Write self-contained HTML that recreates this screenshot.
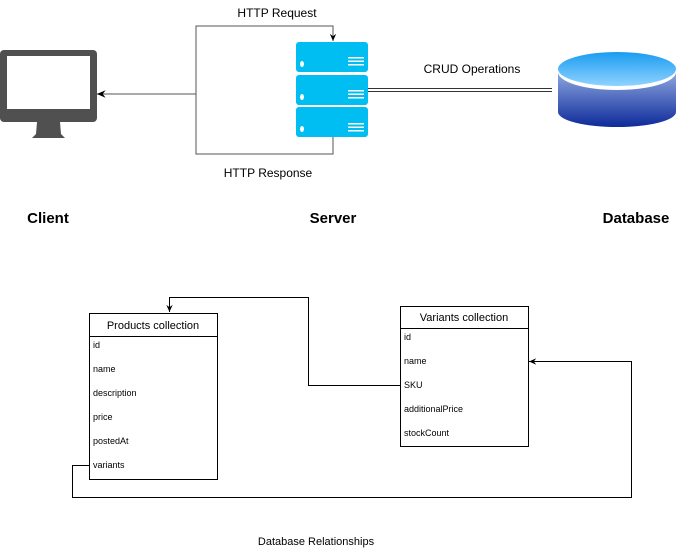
<!DOCTYPE html>
<html><head><style>
body{margin:0;width:683px;height:552px;background:#fff;overflow:hidden}
svg{display:block}
text{font-family:"Liberation Sans",sans-serif}
</style></head><body>
<svg width="683" height="552" viewBox="0 0 683 552">
<defs>
<linearGradient id="cb" x1="0" y1="0" x2="0" y2="1"><stop offset="0" stop-color="#8fa8e0"/><stop offset="1" stop-color="#0d2a9a"/></linearGradient>
<linearGradient id="ct" x1="0" y1="0" x2="0" y2="1"><stop offset="0" stop-color="#1a9cf0"/><stop offset="1" stop-color="#8fd3ff"/></linearGradient>
<marker id="ar" viewBox="0 0 10 10" refX="9" refY="5" markerWidth="8" markerHeight="8" orient="auto"><path d="M0,1 L9,5 L0,9 L3,5 z" fill="#000"/></marker>
</defs>
<!-- monitor -->
<rect x="0" y="50" width="97" height="72" rx="4" fill="#505050"/>
<rect x="7" y="56" width="83" height="53" fill="#fff"/>
<path d="M37,122 L60,122 L61,134 L65,138 L32,138 L36,134 Z" fill="#505050"/>
<!-- server -->
<g fill="#00bef2">
<rect x="296" y="42" width="72" height="30" rx="3"/>
<rect x="296" y="75" width="72" height="30" rx="3"/>
<rect x="296" y="107" width="72" height="30" rx="3"/>
</g>
<g fill="#fff">
<ellipse cx="302" cy="64" rx="2" ry="3"/><ellipse cx="302" cy="97" rx="2" ry="3"/><ellipse cx="302" cy="129" rx="2" ry="3"/>
<rect x="348" y="57" width="16" height="1.5"/><rect x="348" y="60.5" width="16" height="1.5"/><rect x="348" y="64" width="16" height="1.5"/>
<rect x="348" y="90" width="16" height="1.5"/><rect x="348" y="93.5" width="16" height="1.5"/><rect x="348" y="97" width="16" height="1.5"/>
<rect x="348" y="123" width="16" height="1.5"/><rect x="348" y="126.5" width="16" height="1.5"/><rect x="348" y="130" width="16" height="1.5"/>
</g>
<!-- connectors top -->
<path d="M196,94 L97,94" stroke="#777" stroke-width="1.2" fill="none" marker-end="url(#ar)"/>
<path d="M196,94 L196,26 L333,26 L333,41" stroke="#555" stroke-width="1" fill="none" marker-end="url(#ar)"/>
<path d="M333,137 L333,154 L196,154 L196,94" stroke="#555" stroke-width="1" fill="none"/>
<path d="M368,88.5 L552,88.5 M368,91.5 L552,91.5" stroke="#333" stroke-width="1"/>
<!-- cylinder -->
<path d="M558,72 L558,112 A59,15 0 0 0 676,112 L676,72 Z" fill="url(#cb)"/>
<ellipse cx="617" cy="72" rx="59" ry="18" fill="#fff"/>
<ellipse cx="617" cy="69" rx="59" ry="17" fill="url(#ct)"/>
<text x="277" y="17" font-size="12" text-anchor="middle">HTTP Request</text>
<text x="472" y="73" font-size="12" text-anchor="middle">CRUD Operations</text>
<text x="268" y="177" font-size="12" text-anchor="middle">HTTP Response</text>
<text x="48" y="223" font-size="15" font-weight="bold" text-anchor="middle">Client</text>
<text x="333" y="223" font-size="15" font-weight="bold" text-anchor="middle">Server</text>
<text x="636" y="223" font-size="15" font-weight="bold" text-anchor="middle">Database</text>
<!-- products -->
<rect x="89.5" y="313.5" width="128" height="166" fill="#fff" stroke="#000"/>
<line x1="89.5" y1="336.5" x2="217.5" y2="336.5" stroke="#000"/>
<text x="153" y="329" font-size="11" text-anchor="middle">Products collection</text>
<g font-size="9">
<text x="93" y="348">id</text><text x="93" y="372">name</text><text x="93" y="396">description</text>
<text x="93" y="420">price</text><text x="93" y="444">postedAt</text><text x="93" y="468">variants</text>
</g>
<!-- variants -->
<rect x="400.5" y="306.5" width="128" height="140" fill="#fff" stroke="#000"/>
<line x1="400.5" y1="328.5" x2="528.5" y2="328.5" stroke="#000"/>
<text x="464" y="321" font-size="11" text-anchor="middle">Variants collection</text>
<g font-size="9">
<text x="404" y="340">id</text><text x="404" y="364">name</text><text x="404" y="388">SKU</text>
<text x="404" y="412">additionalPrice</text><text x="404" y="436">stockCount</text>
</g>
<path d="M400,385.5 L308.5,385.5 L308.5,297.5 L169.5,297.5 L169.5,312" stroke="#000" stroke-width="1" fill="none" marker-end="url(#ar)"/>
<path d="M89,465.5 L72.5,465.5 L72.5,497.5 L631.5,497.5 L631.5,361.5 L529,361.5" stroke="#000" stroke-width="1" fill="none" marker-end="url(#ar)"/>
<text x="316" y="545" font-size="11" text-anchor="middle">Database Relationships</text>
</svg>
</body></html>
